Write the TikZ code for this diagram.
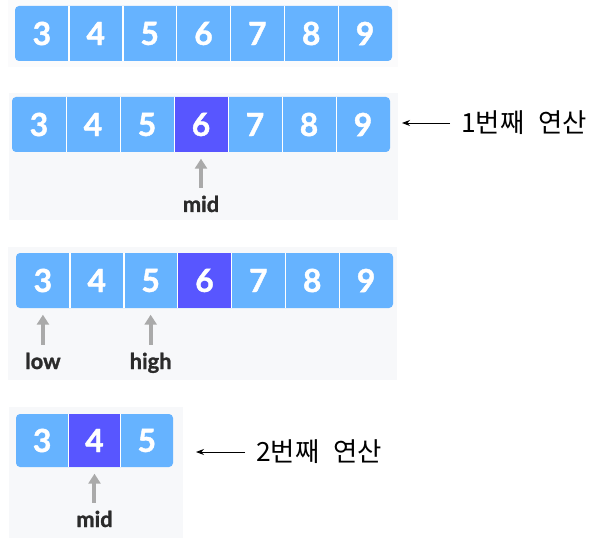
\documentclass[tikz,border=0pt]{standalone}
\usepackage{fontspec}
\setmainfont{Lato}
\newfontfamily\heavyfont[FakeBold=1.3]{Lato Bold}
\newfontfamily\krfont[WordSpace=2.3]{Noto Sans CJK KR}
\usetikzlibrary{arrows.meta}
\definecolor{lb}{HTML}{66B3FF}
\definecolor{db}{HTML}{5856FF}
\definecolor{panel}{HTML}{F7F8FA}
\definecolor{panelfaint}{HTML}{FBFBFC}
\definecolor{garr}{HTML}{AAAAAA}
\definecolor{lbl}{HTML}{2B2B2B}
\tikzset{
  cellbox/.style={minimum width=#1, minimum height=55bp, inner sep=0pt,
    font=\heavyfont\fontsize{32}{32}\selectfont, text=white},
  sepline/.style={white, line width=1.2bp},
  rowbar/.style={fill=lb, rounded corners=4bp},
  garrow/.style={garr, line width=4bp, -{Triangle[length=10bp,width=12bp]},
    shorten <=8bp, shorten >=6.5bp},
  ptrlabel/.style={anchor=base, inner sep=0pt, text=lbl,
    font=\heavyfont\fontsize{22}{22}\selectfont},
  karrow/.style={black, line width=0.9bp, -{Stealth[length=8bp,width=6bp]},
    shorten <=11bp},
  steptext/.style={anchor=west, inner sep=0pt, font=\krfont\fontsize{26.5}{26.5}\selectfont}
}
\begin{document}
\begin{tikzpicture}[x=1bp,y=-1bp]
\useasboundingbox (0,0) rectangle (599,546);
\fill[white] (0,0) rectangle (599,546);
% panels
\fill[panelfaint] (8,0) rectangle (398,67);
\fill[panel] (9,93) rectangle (398,220);
\fill[panel] (8,247) rectangle (397,380);
\fill[panel] (9,407) rectangle (183,538);

% row 1
\fill[rowbar] (15,6) rectangle (392,61);
\foreach \v [count=\k] in {3,...,9}
  \node[cellbox=53.86bp] (a\k) at ({15+(\k-0.5)*53.86},33.5) {\v};
\foreach \k in {1,...,6}
  \draw[sepline] (a\k.north east) -- (a\k.south east);

% row 2
\fill[rowbar] (12,97) rectangle (390,152);
\foreach \v [count=\k] in {3,...,9}
  \node[cellbox=54bp] (b\k) at ({12+(\k-0.5)*54},124.5) {\v};
\fill[db] (b4.north west) rectangle (b4.south east);
\node[cellbox=54bp] at (b4.center) {6};
\foreach \k in {1,...,6}
  \draw[sepline] (b\k.north east) -- (b\k.south east);
\node[ptrlabel] (mid1) at (b4.south |- 0,212) {mid};
\draw[garrow] (mid1.north) -- (b4.south);

% row 3
\fill[rowbar] (16,253) rectangle (393,308);
\foreach \v [count=\k] in {3,...,9}
  \node[cellbox=53.86bp] (c\k) at ({16+(\k-0.5)*53.86},280.5) {\v};
\fill[db] (c4.north west) rectangle (c4.south east);
\node[cellbox=53.86bp] at (c4.center) {6};
\foreach \k in {1,...,6}
  \draw[sepline] (c\k.north east) -- (c\k.south east);
\node[ptrlabel] (low) at (c1.south |- 0,369) {low};
\node[ptrlabel] (high) at (c3.south |- 0,369) {high};
\draw[garrow] (low.north) -- (c1.south);
\draw[garrow] (high.north) -- (c3.south);

% row 4
\fill[rowbar] (16,414) rectangle (173,467);
\foreach \v [count=\k] in {3,4,5}
  \node[cellbox=52.33bp, minimum height=53bp] (d\k) at ({16+(\k-0.5)*52.33},440.5) {\v};
\fill[db] (d2.north west) rectangle (d2.south east);
\node[cellbox=52.33bp, minimum height=53bp] at (d2.center) {4};
\foreach \k in {1,2}
  \draw[sepline] (d\k.north east) -- (d\k.south east);
\node[ptrlabel] (mid2) at (d2.south |- 0,527) {mid};
\draw[garrow] (mid2.north) -- (d2.south);

% step annotations
\node[steptext] (t1) at (461,123) {1번째 연산};
\coordinate (e1) at (402,123);
\draw[karrow] (t1.west) -- (e1);
\node[steptext] (t2) at (256,452) {2번째 연산};
\coordinate (e2) at (196,452);
\draw[karrow] (t2.west) -- (e2);
\end{tikzpicture}
\end{document}
